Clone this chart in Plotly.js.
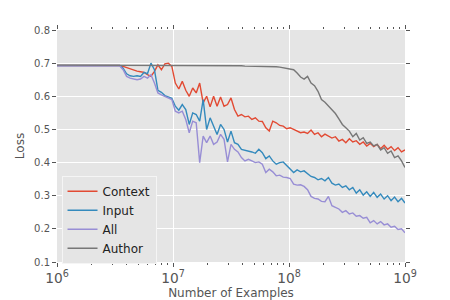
<!DOCTYPE html>
<html><head><meta charset="utf-8">
<script src="https://cdn.plot.ly/plotly-3.0.1.min.js"></script>
<style>html,body{margin:0;padding:0;background:#fff}#c{width:450px;height:300px}</style>
</head><body><div id="c"></div>
<script>
// x positions as log10(number of examples)
const logX = [6.00,6.03,6.06,6.09,6.12,6.15,6.18,6.21,6.24,6.27,6.30,6.33,6.36,6.39,6.42,6.45,6.48,6.51,6.54,
6.57,6.60,6.63,6.66,6.69,6.72,6.75,6.78,6.81,6.84,6.87,6.90,6.93,6.96,6.99,
7.02,7.05,7.08,7.11,7.14,7.17,7.20,7.23,7.26,7.29,7.32,7.35,7.38,7.41,7.44,7.47,7.50,7.53,7.56,7.59,7.62,7.65,7.68,7.71,7.74,7.77,7.80,7.83,7.86,7.89,7.92,7.95,7.98,
8.01,8.04,8.07,8.10,8.13,8.16,8.19,8.22,8.25,8.28,8.31,8.34,8.37,8.40,8.43,8.46,8.49,8.52,8.55,8.58,8.61,8.64,8.67,8.70,8.73,8.76,8.79,8.82,8.85,8.88,8.91,8.94,8.97,9.00];

const context = [0.693,0.693,0.693,0.693,0.693,0.693,0.693,0.693,0.693,0.693,0.693,0.693,0.693,0.693,0.693,0.693,0.693,0.693,0.693,
0.690,0.686,0.682,0.680,0.676,0.674,0.672,0.665,0.660,0.675,0.695,0.680,0.698,0.700,0.690,
0.640,0.622,0.645,0.618,0.600,0.625,0.610,0.640,0.580,0.600,0.568,0.600,0.570,0.598,0.570,0.575,0.595,0.560,0.540,0.545,0.538,0.540,0.530,0.535,0.525,0.524,0.505,0.495,0.525,0.520,0.512,0.510,0.502,
0.505,0.500,0.495,0.490,0.492,0.488,0.498,0.485,0.490,0.478,0.486,0.480,0.474,0.478,0.465,0.470,0.460,0.472,0.462,0.466,0.455,0.462,0.450,0.458,0.448,0.455,0.442,0.452,0.440,0.448,0.436,0.445,0.432,0.438];

const input = [0.693,0.693,0.693,0.693,0.693,0.693,0.693,0.693,0.693,0.693,0.693,0.693,0.693,0.693,0.693,0.693,0.693,0.693,0.693,
0.685,0.668,0.662,0.660,0.662,0.660,0.672,0.668,0.700,0.680,0.618,0.612,0.602,0.598,0.594,
0.570,0.558,0.575,0.560,0.515,0.550,0.545,0.525,0.590,0.500,0.535,0.510,0.485,0.515,0.500,0.462,0.495,0.460,0.455,0.440,0.438,0.435,0.432,0.428,0.440,0.430,0.412,0.420,0.405,0.395,0.400,0.402,0.392,
0.380,0.370,0.378,0.372,0.375,0.365,0.358,0.355,0.348,0.352,0.345,0.355,0.338,0.332,0.335,0.325,0.330,0.318,0.325,0.308,0.318,0.302,0.312,0.298,0.310,0.295,0.305,0.290,0.300,0.285,0.296,0.282,0.292,0.278];

const all = [0.692,0.692,0.692,0.692,0.692,0.692,0.692,0.692,0.692,0.692,0.692,0.692,0.692,0.692,0.692,0.692,0.692,0.692,0.692,
0.680,0.660,0.655,0.652,0.650,0.652,0.660,0.655,0.665,0.640,0.610,0.604,0.600,0.596,0.590,
0.555,0.550,0.555,0.530,0.490,0.525,0.520,0.400,0.480,0.460,0.480,0.455,0.462,0.485,0.470,0.402,0.455,0.440,0.432,0.415,0.405,0.410,0.405,0.400,0.402,0.395,0.370,0.380,0.372,0.360,0.362,0.356,0.355,
0.352,0.335,0.332,0.333,0.328,0.318,0.298,0.292,0.290,0.283,0.282,0.298,0.270,0.265,0.260,0.250,0.255,0.245,0.248,0.238,0.240,0.232,0.235,0.218,0.225,0.215,0.222,0.212,0.215,0.205,0.208,0.198,0.200,0.188];

const author = [0.694,0.694,0.694,0.694,0.694,0.694,0.694,0.694,0.694,0.694,0.694,0.694,0.694,0.694,0.694,0.694,0.694,0.694,0.694,
0.694,0.694,0.694,0.694,0.694,0.694,0.694,0.694,0.694,0.694,0.694,0.694,0.694,0.694,0.694,
0.694,0.694,0.694,0.693,0.693,0.693,0.693,0.693,0.693,0.693,0.693,0.693,0.692,0.692,0.692,0.692,0.692,0.692,0.692,0.692,0.691,0.691,0.691,0.691,0.691,0.691,0.691,0.690,0.690,0.689,0.688,0.686,0.684,
0.683,0.680,0.670,0.658,0.652,0.660,0.640,0.632,0.615,0.590,0.582,0.570,0.560,0.548,0.532,0.515,0.505,0.495,0.478,0.488,0.468,0.475,0.458,0.462,0.450,0.455,0.438,0.445,0.428,0.435,0.415,0.420,0.405,0.385];

const seriesNames = ['Context','Input','All','Author'];
const seriesColors = ['#E24A33','#348ABD','#988ED5','#777777'];
const seriesValues = [context, input, all, author];
const yTicks = [0.1,0.2,0.3,0.4,0.5,0.6,0.7,0.8];

const xs = logX.map(e => Math.pow(10, e));
const traces = seriesNames.map((n, i) => ({
  type: 'scatter', mode: 'lines', name: n, x: xs, y: seriesValues[i],
  line: {color: seriesColors[i], width: 1.4}
}));

const layout = {
  width: 450, height: 300,
  margin: {l: 57, r: 45, t: 30, b: 38},
  paper_bgcolor: '#ffffff', plot_bgcolor: '#E5E5E5',
  font: {family: 'DejaVu Sans', size: 10, color: '#555555'},
  showlegend: true,
  legend: {x: 0.013, y: 0.372, xanchor: 'left', yanchor: 'top',
    bgcolor: '#E5E5E5', bordercolor: '#F5F5F5', borderwidth: 1,
    font: {family: 'DejaVu Sans', size: 12, color: '#222222'}, tracegroupgap: 0},
  xaxis: {type: 'log', range: [6, 9], dtick: 1, exponentformat: 'power',
    showgrid: true, gridcolor: '#ffffff', gridwidth: 1, zeroline: false,
    ticks: 'outside', ticklen: 4, tickcolor: '#555555', mirror: 'ticks', showline: false,
    minor: {dtick: 'D1', ticks: 'outside', ticklen: 2, tickcolor: '#555555', showgrid: false},
    tickfont: {size: 11, color: '#555555'},
    title: {text: 'Number of Examples', font: {size: 12, color: '#555555'}, standoff: 4}},
  yaxis: {range: [0.1, 0.8], tickvals: yTicks, ticktext: yTicks.map(v => v.toFixed(1)),
    showgrid: true, gridcolor: '#ffffff', gridwidth: 1, zeroline: false,
    ticks: 'outside', ticklen: 4, tickcolor: '#555555', mirror: 'ticks', showline: false,
    tickfont: {size: 10, color: '#555555'},
    title: {text: 'Loss', font: {size: 12, color: '#555555'}, standoff: 6}}
};
Plotly.newPlot('c', traces, layout, {staticPlot: true, displayModeBar: false});
</script></body></html>
